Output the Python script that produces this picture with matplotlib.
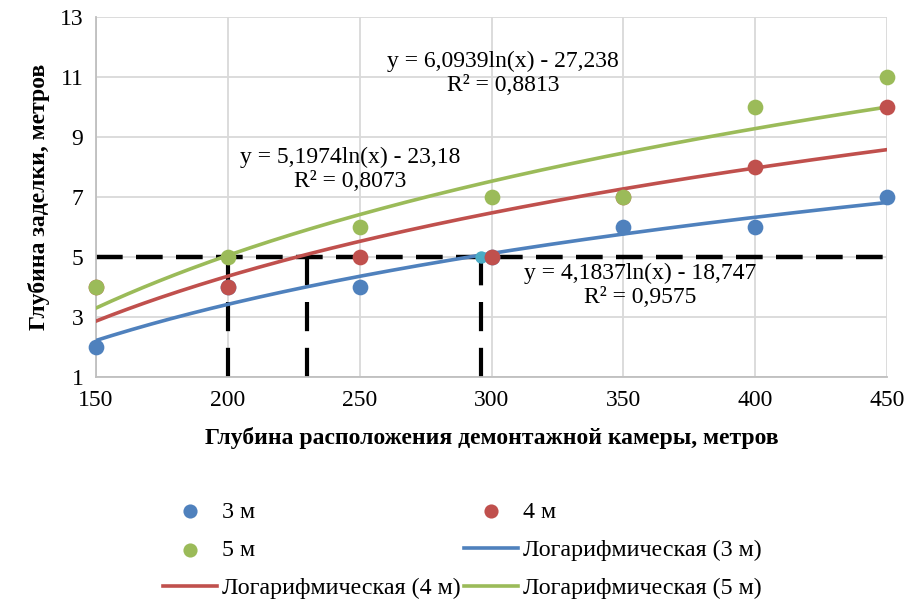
import numpy as np
import matplotlib.pyplot as plt

plt.rcParams["font.family"] = ["Liberation Serif", "DejaVu Serif"]

depth = [150, 200, 250, 300, 350, 400, 450]
y_3m = [2, 4, 4, 5, 6, 6, 7]
y_4m = [4, 4, 5, 5, 7, 8, 10]
y_5m = [4, 5, 6, 7, 7, 10, 11]
series_names = ["3 м", "4 м", "5 м"]
colors = ["#4F81BD", "#C0504D", "#9BBB59"]

# construction lines
level = 5
cross_x = [200, 230, 296]

# where the trendline equations sit (data coords)
eq_pos = [(356.5, 4.04), (246.5, 7.92), (304.5, 11.12)]


def log_fit(x, y):
    slope, intercept = np.polyfit(np.log(x), y, 1)
    pred = intercept + slope * np.log(x)
    ss_res = np.sum((np.array(y) - pred) ** 2)
    ss_tot = np.sum((np.array(y) - np.mean(y)) ** 2)
    return slope, intercept, 1 - ss_res / ss_tot


def fmt(v, n):
    return f"{v:.{n}f}".rstrip("0").replace(".", ",")


fig = plt.figure(figsize=(9.24, 6.08), dpi=100)
ax = fig.add_axes([96 / 924, 1 - 377 / 608, (887 - 96) / 924, (377 - 16.7) / 608])

xs = np.linspace(150, 450, 200)
pts, lines = [], []
for y, name, c in zip([y_3m, y_4m, y_5m], series_names, colors):
    h = ax.scatter(depth, y, s=128, color=c, zorder=4, label=name, linewidths=0,
                   clip_on=False)
    pts.append(h)
for y, name, c, pos in zip([y_3m, y_4m, y_5m], series_names, colors, eq_pos):
    a, b, r2 = log_fit(depth, y)
    (l,) = ax.plot(xs, a * np.log(xs) + b, color=c, lw=2.6, zorder=3,
                   label=f"Логарифмическая ({name})")
    lines.append(l)
    ax.text(pos[0], pos[1], f"y = {fmt(a, 4)}ln(x) - {fmt(-b, 3)}\nR² = {fmt(r2, 4)}",
            ha="center", va="center", fontsize=17, linespacing=1.2, zorder=5)

ax.scatter([cross_x[-1]], [level], s=80, color="#4BACC6", zorder=3.5, linewidths=0)

ax.plot([150, 450], [level, level], color="black", lw=3.2, dashes=(6, 3), zorder=2)
for x in cross_x:
    ax.plot([x, x], [1, level], color="black", lw=3, dashes=(7, 4), zorder=2)

ax.set_xlim(150, 450)
ax.set_ylim(1, 13)
ax.set_xticks(range(150, 451, 50))
ax.set_yticks(range(1, 14, 2))
ax.grid(color="#d9d9d9", lw=1.3)
ax.set_axisbelow(True)
for s in ["top", "right"]:
    ax.spines[s].set_visible(False)
for s in ["left", "bottom"]:
    ax.spines[s].set_color("#bfbfbf")
    ax.spines[s].set_linewidth(1.3)
ax.tick_params(length=0, labelsize=17, pad=9)

ax.set_xlabel("Глубина расположения демонтажной камеры, метров",
              fontsize=17, fontweight="bold", labelpad=12)
ax.set_ylabel("Глубина заделки, метров", fontsize=17, fontweight="bold", labelpad=7)

handles = [pts[0], pts[2], lines[1], pts[1], lines[0], lines[2]]
fig.legend(handles=handles, labels=[h.get_label() for h in handles],
           ncol=2, loc="center", bbox_to_anchor=(462 / 924, 1 - 550 / 608),
           frameon=False, fontsize=17.3, handlelength=2.25, columnspacing=0.15,
           labelspacing=0.68, handletextpad=0.2, markerscale=0.9, borderpad=0)

fig.savefig("out.png", dpi=100)
